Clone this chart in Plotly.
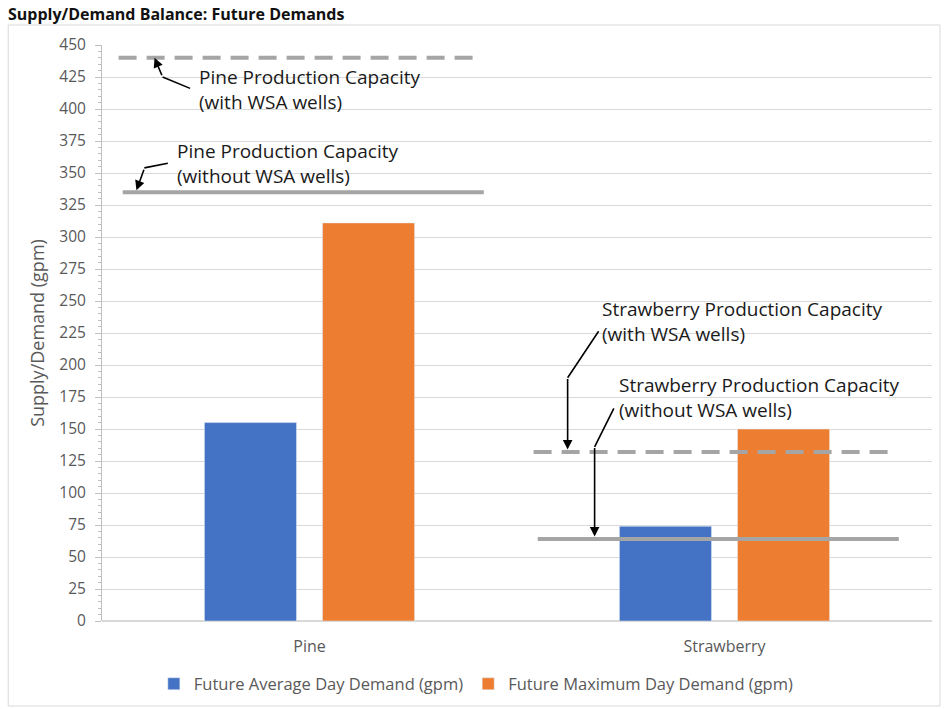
import plotly.graph_objects as go

categories = ["Pine", "Strawberry"]
avg_demand = [155, 74]
max_demand = [311, 150]
cap_with_wsa = [440, 132]
cap_without_wsa = [335, 64]

series_names = ["Future Average Day Demand (gpm)", "Future Maximum Day Demand (gpm)"]
y_ticks = list(range(0, 451, 25))

BLUE = "#4472C4"
ORANGE = "#ED7D31"
LINE_GRAY = "#A5A5A5"
FONT = "Open Sans"

fig = go.Figure()
fig.add_trace(go.Bar(x=categories, y=avg_demand, name=series_names[0], marker_color=BLUE))
fig.add_trace(go.Bar(x=categories, y=max_demand, name=series_names[1], marker_color=ORANGE))

# capacity lines
for i, cat in enumerate(categories):
    fig.add_shape(type="line", xref="x", yref="y", x0=i - 0.46, x1=i + 0.41,
                  y0=cap_with_wsa[i], y1=cap_with_wsa[i],
                  line=dict(color=LINE_GRAY, width=4, dash="18px,10px"))
    fig.add_shape(type="line", xref="x", yref="y", x0=i - 0.45, x1=i + 0.42,
                  y0=cap_without_wsa[i], y1=cap_without_wsa[i],
                  line=dict(color=LINE_GRAY, width=4))

labels = [
    ("Pine Production Capacity<br>(with WSA wells)", 0 - 0.272, 415.6),
    ("Pine Production Capacity<br>(without WSA wells)", 0 - 0.325, 357.8),
    ("Strawberry Production Capacity<br>(with WSA wells)", 1 - 0.301, 234),
    ("Strawberry Production Capacity<br>(without WSA wells)", 1 - 0.260, 175),
]
for txt, x, y in labels:
    fig.add_annotation(x=x, y=y, xref="x", yref="y", text=txt, showarrow=False,
                       xanchor="left", yanchor="middle", align="left",
                       font=dict(family=FONT, size=19, color="#1a1a1a"))

# arrows: (head x, head y, bend ax, bend ay, bend x, bend y, tail ax, tail ay)
arrows = [
    (0 - 0.3735, cap_with_wsa[0], 8, 19, 0 - 0.354, 425, 29, 12),
    (0 - 0.417, cap_without_wsa[0] + 1.5, 8, -22, 0 - 0.398, 354, 25, -5),
    (1 - 0.378, cap_with_wsa[1] + 2, 0, -72, 1 - 0.378, 190, 32, -48),
    (1 - 0.313, cap_without_wsa[1] + 2, 0, -90, 1 - 0.313, 136, 20, -40),
]
for hx, hy, bax, bay, bx, by, tax, tay in arrows:
    fig.add_annotation(x=hx, y=hy, xref="x", yref="y", ax=bax, ay=bay, text="",
                       showarrow=True, arrowhead=2, arrowsize=1.2, arrowwidth=1.6,
                       arrowcolor="#000000")
    fig.add_annotation(x=bx, y=by, xref="x", yref="y", ax=tax, ay=tay, text="",
                       showarrow=True, arrowhead=0, arrowwidth=1.6,
                       arrowcolor="#000000")

# chart border
fig.add_shape(type="rect", xref="paper", yref="paper", x0=-0.113, x1=1.0096,
              y0=-0.1476, y1=1.0347, line=dict(color="#D9D9D9", width=1),
              fillcolor="rgba(0,0,0,0)", layer="below")

fig.update_layout(
    width=947, height=709,
    margin=dict(l=102, r=15, t=45, b=88, autoexpand=False),
    paper_bgcolor="white", plot_bgcolor="white",
    barmode="group", bargap=0.431, bargroupgap=0.22,
    font=dict(family=FONT, color="#595959"),
    title=dict(text="<b>Supply/Demand Balance: Future Demands</b>",
               x=8 / 947, xref="container", xanchor="left",
               y=1 - 14 / 709, yref="container", yanchor="middle",
               font=dict(family=FONT, size=16, color="#111111")),
    legend=dict(orientation="h", xref="container", yref="container",
                x=0.503, y=1 - 684 / 709, xanchor="center", yanchor="middle",
                font=dict(family=FONT, size=16.5, color="#595959"),
                itemwidth=30, tracegroupgap=0),
    showlegend=True,
)
fig.update_xaxes(showgrid=False, showline=False, ticks="", ticklabelstandoff=14,
                 automargin=False,
                 tickfont=dict(family=FONT, size=16, color="#595959"),
                 range=[-0.5, 1.5])
fig.update_yaxes(range=[0, 450], tickvals=y_ticks, showgrid=True, gridcolor="#D9D9D9",
                 gridwidth=1, zeroline=True, zerolinecolor="#D9D9D9",
                 showline=True, linecolor="#BFBFBF", ticks="outside", ticklen=6,
                 tickcolor="#BFBFBF", ticklabelstandoff=6, automargin=False,
                 minor=dict(dtick=5, ticks="outside", ticklen=3, tickcolor="#BFBFBF", showgrid=False),
                 tickfont=dict(family=FONT, size=15.5, color="#595959"),
                 title=dict(text="Supply/Demand (gpm)", standoff=10,
                            font=dict(family=FONT, size=18, color="#595959")))

fig.write_html("out.html")
